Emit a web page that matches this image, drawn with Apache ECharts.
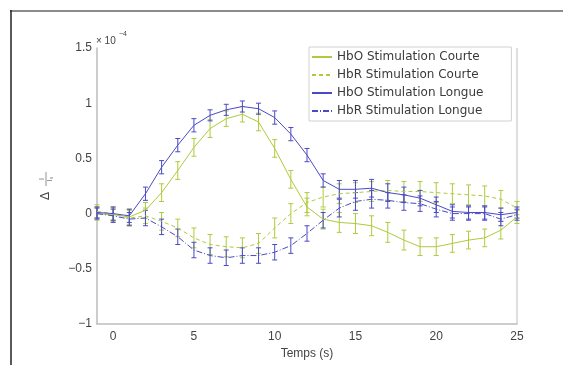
<!DOCTYPE html>
<html>
<head>
<meta charset="utf-8">
<script src="https://cdn.jsdelivr.net/npm/echarts@6/dist/echarts.min.js"></script>
<style>
html,body{margin:0;padding:0;background:#fff;}
#chart{width:563px;height:365px;}
</style>
</head>
<body>
<div id="chart"></div>
<script>
// Time (s)
const times = [-1,0,1,2,3,4,5,6,7,8,9,10,11,12,13,14,15,16,17,18,19,20,21,22,23,24,25];
// Values (x 10^-4)
const hboCourte = [0.00,-0.01,-0.03,0.03,0.19,0.39,0.60,0.77,0.86,0.90,0.83,0.59,0.31,0.06,-0.05,-0.08,-0.09,-0.11,-0.17,-0.24,-0.30,-0.30,-0.27,-0.24,-0.22,-0.15,-0.03];
const hbrCourte = [0.02,0.00,-0.04,-0.02,-0.07,-0.13,-0.22,-0.28,-0.30,-0.31,-0.27,-0.13,0.00,0.10,0.15,0.18,0.19,0.20,0.21,0.20,0.20,0.19,0.18,0.17,0.16,0.13,0.05];
const hboLongue = [0.01,0.00,-0.02,0.18,0.42,0.62,0.80,0.89,0.94,0.97,0.95,0.87,0.72,0.53,0.30,0.22,0.22,0.23,0.19,0.17,0.14,0.08,0.02,0.01,0.01,-0.01,0.01];
const hbrLongue = [0.00,-0.02,-0.05,-0.04,-0.12,-0.21,-0.33,-0.38,-0.40,-0.38,-0.38,-0.35,-0.29,-0.18,-0.06,0.05,0.11,0.13,0.12,0.10,0.09,0.04,0.00,0.00,0.00,-0.05,-0.01];
// Error half-widths (x 10^-4)
const errHboCourte = [0.06,0.06,0.07,0.07,0.08,0.08,0.08,0.08,0.07,0.07,0.08,0.08,0.08,0.08,0.09,0.09,0.09,0.09,0.09,0.09,0.08,0.08,0.08,0.08,0.08,0.08,0.06];
const errHbrCourte = [0.06,0.06,0.07,0.07,0.08,0.08,0.09,0.09,0.09,0.09,0.09,0.09,0.09,0.09,0.09,0.09,0.09,0.09,0.09,0.09,0.09,0.09,0.09,0.09,0.09,0.08,0.06];
const errHboLongue = [0.05,0.06,0.06,0.06,0.06,0.06,0.06,0.05,0.05,0.05,0.05,0.06,0.06,0.06,0.06,0.08,0.08,0.08,0.08,0.07,0.07,0.07,0.06,0.06,0.06,0.06,0.05];
const errHbrLongue = [0.05,0.06,0.06,0.07,0.07,0.07,0.07,0.07,0.07,0.07,0.07,0.07,0.07,0.07,0.07,0.08,0.08,0.08,0.07,0.07,0.07,0.07,0.06,0.06,0.06,0.06,0.05];
const xTicks = [0,5,10,15,20,25];
const yTicks = [-1,-0.5,0,0.5,1,1.5];
const names = ['HbO Stimulation Courte','HbR Stimulation Courte','HbO Stimulation Longue','HbR Stimulation Longue'];

const GREEN = '#aecb3c';
const BLUE = '#4a4ac6';

function pairs(v){ return times.map((t,i)=>[t,v[i]]); }
function errData(v,e){ return times.map((t,i)=>[t,v[i]-e[i],v[i]+e[i]]); }

function errSeries(v,e,color){
  return {
    type:'custom',
    silent:true,
    z:3,
    data: errData(v,e),
    renderItem: function(params, api){
      const x = api.value(0);
      const lo = api.coord([x, api.value(1)]);
      const hi = api.coord([x, api.value(2)]);
      const w = 2.5;
      const st = {stroke:color, lineWidth:1, fill:null};
      return {type:'group', children:[
        {type:'line', shape:{x1:lo[0],y1:lo[1],x2:hi[0],y2:hi[1]}, style:st},
        {type:'line', shape:{x1:lo[0]-w,y1:lo[1],x2:lo[0]+w,y2:lo[1]}, style:st},
        {type:'line', shape:{x1:hi[0]-w,y1:hi[1],x2:hi[0]+w,y2:hi[1]}, style:st}
      ]};
    }
  };
}

function lineSeries(name, v, color, type){
  return {name:name, type:'line', data:pairs(v), symbol:'none', showSymbol:false,
    lineStyle:{color:color, width:1, type:type}, itemStyle:{color:color}, z:4};
}

const chart = echarts.init(document.getElementById('chart'), null, {renderer:'canvas'});
const fontFam = '"Liberation Sans", Arial, sans-serif';
chart.setOption({
  animation:false,
  backgroundColor:'#ffffff',
  grid:{left:97, right:46, top:48, bottom:41, containLabel:false},
  xAxis:{
    type:'value', min:-1, max:25,
    name:'Temps (s)', nameLocation:'middle', nameGap:19,
    nameTextStyle:{color:'#444', fontSize:12, fontFamily:fontFam},
    axisLine:{show:true, onZero:false, lineStyle:{color:'#bdbdbd', width:1.5}},
    axisTick:{show:false},
    axisLabel:{customValues:xTicks, color:'#444', fontSize:12, fontFamily:fontFam, margin:7},
    splitLine:{show:false}
  },
  yAxis:{
    type:'value', min:-1, max:1.5, interval:0.5,
    axisLine:{show:true, onZero:false, lineStyle:{color:'#bdbdbd', width:1.5}},
    axisTick:{show:false},
    axisLabel:{color:'#444', fontSize:12, fontFamily:fontFam, margin:5,
      formatter:function(v){ return yTicks.indexOf(v)>=0 ? String(v).replace('-','\u2212') : ''; }},
    splitLine:{show:false}
  },
  legend:{
    data:names,
    orient:'vertical', left:309, top:47,
    padding:[4,28,4,2], itemGap:6, itemWidth:20, itemHeight:13,
    borderColor:'#d0d0d0', borderWidth:1, backgroundColor:'#fff',
    itemStyle:{opacity:0},
    textStyle:{color:'#3a3a3a', fontSize:12, fontFamily:'"DejaVu Sans", sans-serif'}
  },
  series:[
    lineSeries(names[0], hboCourte, GREEN, 'solid'),
    lineSeries(names[1], hbrCourte, GREEN, [4,3]),
    lineSeries(names[2], hboLongue, BLUE, 'solid'),
    lineSeries(names[3], hbrLongue, BLUE, [6,2,1,2]),
    errSeries(hboCourte, errHboCourte, GREEN),
    errSeries(hbrCourte, errHbrCourte, GREEN),
    errSeries(hboLongue, errHboLongue, BLUE),
    errSeries(hbrLongue, errHbrLongue, BLUE)
  ],
  graphic:[
    {type:'line', shape:{x1:10,y1:11,x2:563,y2:11}, style:{stroke:'#666', lineWidth:1.5}},
    {type:'line', shape:{x1:11,y1:10,x2:11,y2:365}, style:{stroke:'#222', lineWidth:1.5}},
    {type:'line', shape:{x1:517,y1:48,x2:517,y2:324}, style:{stroke:'#d4d4d4', lineWidth:1.5}},
    {type:'text', left:96, top:36, style:{text:'\u00d7 10', fill:'#444', font:'10px "Liberation Sans", Arial, sans-serif'}},
    {type:'text', left:119, top:31, style:{text:'\u22124', fill:'#444', font:'7px "Liberation Sans", Arial, sans-serif'}},
    {type:'group', x:52, y:200, rotation:Math.PI/2, children:[
      {type:'text', x:0, y:-6, style:{text:'\u0394', fill:'#444', font:'12px "Liberation Sans", Arial, sans-serif', textAlign:'left', textVerticalAlign:'middle'}},
      {type:'text', x:21, y:-10, style:{text:'I', fill:'#666', font:'7px "Liberation Sans", Arial, sans-serif', textAlign:'center', textVerticalAlign:'middle'}},
      {type:'line', shape:{x1:14, y1:-6, x2:28, y2:-6}, style:{stroke:'#777', lineWidth:0.8}},
      {type:'text', x:21, y:-2, style:{text:'I\u2080', fill:'#666', font:'7px "Liberation Sans", Arial, sans-serif', textAlign:'center', textVerticalAlign:'middle'}}
    ]}
  ]
});
</script>
</body>
</html>
